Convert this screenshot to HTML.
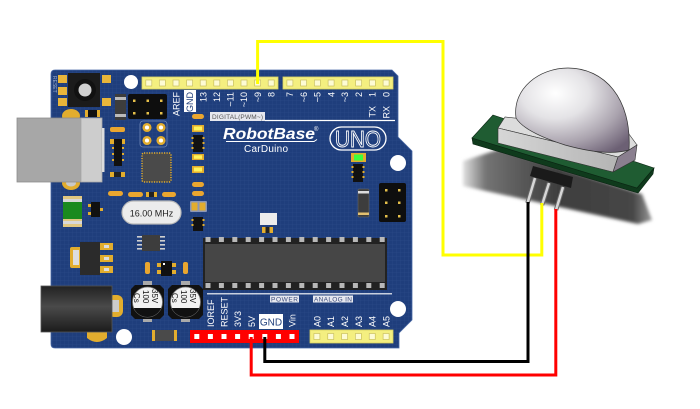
<!DOCTYPE html>
<html><head><meta charset="utf-8"><style>
html,body{margin:0;padding:0;background:#fff;width:700px;height:409px;overflow:hidden;}
svg{display:block;}
text{font-family:"Liberation Sans",sans-serif;}
</style></head><body>
<svg width="700" height="409" viewBox="0 0 700 409" xmlns="http://www.w3.org/2000/svg">
<defs>
 <pattern id="grid" width="4" height="4" patternUnits="userSpaceOnUse">
  <path d="M0 0H4M0 0V4" stroke="#5a7ab6" stroke-width="0.5" opacity="0.25"/>
 </pattern>
 <radialGradient id="dome" cx="0.35" cy="0.3" r="0.85">
  <stop offset="0" stop-color="#ffffff"/>
  <stop offset="0.35" stop-color="#e4e3e6"/>
  <stop offset="0.7" stop-color="#aaa3ae"/>
  <stop offset="1" stop-color="#6c6074"/>
 </radialGradient>
 <linearGradient id="shadow" x1="0" y1="0" x2="1" y2="0">
  <stop offset="0" stop-color="#e0e0e0"/>
  <stop offset="0.12" stop-color="#747474"/>
  <stop offset="0.5" stop-color="#3e3e3e"/>
  <stop offset="0.9" stop-color="#464646"/>
  <stop offset="1" stop-color="#9a9a9a"/>
 </linearGradient>
 <filter id="blur" x="-10%" y="-10%" width="120%" height="120%"><feGaussianBlur stdDeviation="1.5"/></filter>
 <linearGradient id="jack" x1="0" y1="0" x2="0" y2="1">
  <stop offset="0" stop-color="#222"/>
  <stop offset="0.45" stop-color="#4a4a4a"/>
  <stop offset="1" stop-color="#1c1c1c"/>
 </linearGradient>
 <linearGradient id="front" x1="0" y1="0" x2="1" y2="0">
  <stop offset="0" stop-color="#d6d6d6"/>
  <stop offset="1" stop-color="#b4b4b4"/>
 </linearGradient>
 <clipPath id="c1"><rect x="125" y="308" width="45" height="20"/></clipPath>
 <clipPath id="c2"><rect x="163" y="308" width="45" height="20"/></clipPath>
</defs>

<!-- Board -->
<path d="M55,70 H392 L398,76 V137 L412,151 V320 L399,333 V348 H55 Q51,348 51,344 V74 Q51,70 55,70 Z" fill="#1f3e7c"/>
<path d="M55,70 H392 L398,76 V137 L412,151 V320 L399,333 V348 H55 Q51,348 51,344 V74 Q51,70 55,70 Z" fill="url(#grid)" stroke="#4a69a6" stroke-width="0.8"/>

<!-- holes -->
<circle cx="131" cy="82" r="7" fill="#fff"/>
<circle cx="398" cy="163" r="8" fill="#fff"/>
<circle cx="124" cy="337" r="8" fill="#fff"/>
<circle cx="398" cy="309" r="8" fill="#fff"/>

<!-- Reset button -->
<g fill="#e8b53a">
 <rect x="58" y="75" width="9" height="8"/><rect x="58" y="87" width="9" height="8"/><rect x="58" y="98" width="9" height="8"/>
 <rect x="102" y="75" width="9" height="8"/><rect x="102" y="98" width="9" height="8"/>
</g>
<rect x="68" y="73" width="32" height="34" fill="#1b1b1b"/>
<circle cx="85" cy="90" r="11" fill="#111"/>
<circle cx="85" cy="90" r="6.5" fill="#cfcfcf"/>
<text transform="translate(53,76) rotate(90)" font-size="5" fill="#9fb0d0">RESET</text>

<!-- diode top -->
<rect x="115" y="94" width="11" height="26" fill="#3d3d3d"/>
<rect x="115" y="97" width="11" height="3" fill="#bbb"/>
<rect x="115" y="114" width="11" height="3" fill="#bbb"/>

<!-- ICSP top -->
<rect x="128" y="94" width="39" height="25" rx="2" fill="#0e0e0e"/>
<g fill="#e6c04a">
 <rect x="133" y="99.5" width="2.5" height="2.5"/><rect x="146.5" y="99.5" width="2.5" height="2.5"/><rect x="160" y="99.5" width="2.5" height="2.5"/>
 <rect x="133" y="112" width="2.5" height="2.5"/><rect x="146.5" y="112" width="2.5" height="2.5"/><rect x="160" y="112" width="2.5" height="2.5"/>
</g>
<rect x="140" y="121" width="27" height="26" rx="3" fill="none" stroke="#7088b8" stroke-width="0.8"/>
<g fill="#fff" stroke="#e2ad2e" stroke-width="2.5">
 <circle cx="147" cy="127.5" r="3.3"/><circle cx="161" cy="127.5" r="3.3"/>
 <circle cx="147" cy="140.5" r="3.3"/><circle cx="161" cy="140.5" r="3.3"/>
</g>

<!-- gold oval pads near USB -->
<ellipse cx="71" cy="116" rx="9" ry="7" fill="#e2ad2e"/>
<ellipse cx="71" cy="183" rx="9" ry="7" fill="#e2ad2e"/>
<ellipse cx="71" cy="183" rx="5" ry="3.5" fill="#c9c9c9"/>
<!-- small chip near USB -->
<rect x="85" y="110" width="15" height="7" fill="#e2ad2e"/>
<rect x="88" y="110" width="9" height="7" fill="#111"/>

<!-- USB -->
<rect x="17" y="118" width="64" height="64" fill="#a7a7a7" stroke="#8e8e8e" stroke-width="0.8"/>
<rect x="81" y="118" width="21" height="64" fill="#cdcdcd" stroke="#a9a9a9" stroke-width="0.8"/>
<rect x="102" y="128" width="2.5" height="44" fill="#dcdcdc"/>

<!-- left column small parts -->
<rect x="110" y="127" width="15" height="5" rx="2" fill="#eaa62f"/>
<rect x="110" y="139" width="5" height="5" fill="#e2ad2e"/><rect x="120" y="139" width="5" height="5" fill="#e2ad2e"/>
<rect x="114" y="139" width="8" height="27" fill="#111"/>
<g fill="#e2ad2e"><rect x="112" y="147" width="2" height="2"/><rect x="112" y="153" width="2" height="2"/><rect x="112" y="159" width="2" height="2"/><rect x="122" y="147" width="2" height="2"/><rect x="122" y="153" width="2" height="2"/><rect x="122" y="159" width="2" height="2"/></g>
<rect x="110" y="172" width="5" height="5" fill="#e2ad2e"/><rect x="120" y="172" width="5" height="5" fill="#e2ad2e"/>
<rect x="114" y="172" width="7" height="5" fill="#222"/>

<!-- QFP -->
<rect x="142" y="153" width="29" height="29" rx="2" fill="#4a4a4a" stroke="#e2ad2e" stroke-width="1.5" stroke-dasharray="1.2 1.3"/>
<rect x="144" y="155" width="25" height="25" rx="2" fill="#4a4a4a"/>

<!-- resistor row above crystal -->
<rect x="108" y="191" width="15" height="5" rx="2.5" fill="#eaa62f"/>
<rect x="128" y="192" width="15" height="5" rx="2.5" fill="#eaa62f"/>
<rect x="146" y="192" width="11" height="5" fill="#e2ad2e"/><rect x="149" y="192" width="5" height="5" fill="#222"/>
<rect x="162" y="192" width="14" height="5" rx="2.5" fill="#eaa62f"/>

<!-- crystal -->
<rect x="122" y="201" width="59" height="23" rx="11.5" fill="#ececec" stroke="#b9b9b9" stroke-width="1.2"/>
<text x="151.5" y="216.5" font-size="9" fill="#222" text-anchor="middle">16.00 MHz</text>

<!-- column of LEDs / resistors -->
<rect x="192" y="114" width="12" height="5" rx="2.5" fill="#eaa62f"/>
<rect x="192" y="125" width="12" height="7" fill="#e2ad2e"/><rect x="194" y="126.5" width="8" height="4" fill="#fff35a"/>
<rect x="193" y="135" width="10" height="17" fill="#111"/>
<g fill="#e2ad2e"><rect x="191.5" y="137" width="2" height="2"/><rect x="191.5" y="142" width="2" height="2"/><rect x="191.5" y="147" width="2" height="2"/><rect x="202.5" y="137" width="2" height="2"/><rect x="202.5" y="142" width="2" height="2"/><rect x="202.5" y="147" width="2" height="2"/></g>
<rect x="192" y="154" width="12" height="6" fill="#e2ad2e"/><rect x="194" y="155.3" width="8" height="3.5" fill="#fff35a"/>
<rect x="192" y="166" width="12" height="7" fill="#e2ad2e"/><rect x="194" y="167.5" width="8" height="4" fill="#fff35a"/>
<rect x="192" y="182" width="12" height="5" rx="2.5" fill="#eaa62f"/>
<rect x="192" y="191" width="12" height="5" rx="2.5" fill="#eaa62f"/>
<rect x="190" y="201" width="17" height="11" rx="1" fill="#8a96b8"/><rect x="191.5" y="202.5" width="6" height="8" fill="#e2ad2e"/><rect x="199.5" y="202.5" width="6" height="8" fill="#e2ad2e"/>
<rect x="193" y="217" width="10" height="14" fill="#111"/>
<g fill="#e2ad2e"><rect x="191.5" y="219" width="2" height="2"/><rect x="191.5" y="224" width="2" height="2"/><rect x="202.5" y="219" width="2" height="2"/><rect x="202.5" y="224" width="2" height="2"/></g>

<!-- green part -->
<rect x="63" y="196" width="19" height="31" fill="#e0c780"/>
<rect x="63" y="199" width="19" height="3" fill="#d8d8d8"/>
<rect x="63" y="221" width="19" height="3" fill="#d8d8d8"/>
<rect x="63" y="202" width="19" height="17" fill="#1a8a1e"/>
<!-- transistor -->
<rect x="88" y="204" width="4" height="3" fill="#e2ad2e"/><rect x="88" y="212" width="4" height="3" fill="#e2ad2e"/><rect x="99" y="208" width="4" height="3" fill="#e2ad2e"/>
<rect x="91" y="202" width="9" height="15" fill="#111"/>

<!-- voltage regulator -->
<rect x="70" y="247" width="14" height="21" rx="2" fill="#e2ad2e"/>
<rect x="73" y="250" width="6" height="15" fill="#ddd"/>
<rect x="100" y="243" width="13" height="7" fill="#e2ad2e"/>
<rect x="100" y="255" width="13" height="7" fill="#e2ad2e"/>
<rect x="100" y="266" width="13" height="7" fill="#e2ad2e"/>
<rect x="104" y="245" width="5" height="3" fill="#ddd"/><rect x="104" y="257" width="5" height="3" fill="#ddd"/><rect x="104" y="268" width="5" height="3" fill="#ddd"/>
<rect x="80" y="242" width="20" height="33" fill="#2b2b2b"/>

<!-- 8 pin chip -->
<g fill="#cfcfcf">
 <rect x="137" y="236" width="5" height="1.6"/><rect x="137" y="240" width="5" height="1.6"/><rect x="137" y="244" width="5" height="1.6"/><rect x="137" y="248" width="5" height="1.6"/>
 <rect x="160" y="236" width="5" height="1.6"/><rect x="160" y="240" width="5" height="1.6"/><rect x="160" y="244" width="5" height="1.6"/><rect x="160" y="248" width="5" height="1.6"/>
</g>
<rect x="142" y="235" width="18" height="16" fill="#3d3d3d"/>
<!-- small parts above caps -->
<rect x="145" y="262" width="5" height="12" rx="2" fill="#eaa62f"/>
<rect x="157" y="263" width="5" height="4" fill="#e2ad2e"/><rect x="157" y="270" width="5" height="4" fill="#e2ad2e"/><rect x="171" y="263" width="5" height="4" fill="#e2ad2e"/><rect x="171" y="270" width="5" height="4" fill="#e2ad2e"/>
<rect x="161" y="261" width="11" height="15" fill="#111"/><rect x="163" y="263" width="2" height="2" fill="#fff"/>
<rect x="183" y="262" width="5" height="12" rx="2" fill="#eaa62f"/>

<!-- capacitors -->
<g>
 <rect x="143" y="281" width="9" height="4" fill="#aaa"/><rect x="143" y="319" width="9" height="3" fill="#aaa"/>
 <path d="M135,285 H160 L164,289 V315 L160,319 H135 L131,315 V289 Z" fill="#111"/>
 <circle cx="147.5" cy="302" r="15" fill="#f2f2f2" stroke="#777" stroke-width="0.8"/>
 <circle cx="147.5" cy="302" r="15" fill="#111" clip-path="url(#c1)"/>
 <text transform="translate(134,293) rotate(90)" font-family="Liberation Serif" font-size="8" fill="#111">Cs</text>
 <text transform="translate(143,290) rotate(90)" font-family="Liberation Serif" font-size="8" fill="#111">100</text>
 <text transform="translate(152,289) rotate(90)" font-family="Liberation Serif" font-size="8" fill="#111">35V</text>
</g>
<g>
 <rect x="181" y="281" width="9" height="4" fill="#aaa"/><rect x="181" y="319" width="9" height="3" fill="#aaa"/>
 <path d="M172,285 H199 L203,289 V315 L199,319 H172 L168,315 V289 Z" fill="#111"/>
 <circle cx="185.5" cy="302" r="15" fill="#f2f2f2" stroke="#777" stroke-width="0.8"/>
 <circle cx="185.5" cy="302" r="15" fill="#111" clip-path="url(#c2)"/>
 <text transform="translate(172,293) rotate(90)" font-family="Liberation Serif" font-size="8" fill="#111">Cs</text>
 <text transform="translate(181,290) rotate(90)" font-family="Liberation Serif" font-size="8" fill="#111">100</text>
 <text transform="translate(190,289) rotate(90)" font-family="Liberation Serif" font-size="8" fill="#111">35V</text>
</g>

<!-- power jack -->
<rect x="108" y="295" width="15" height="22" rx="6" fill="#e2ad2e"/>
<rect x="111" y="300" width="8" height="12" fill="#ccc"/>
<path d="M87,330 H107 V338 Q97,346 87,338 Z" fill="#e2ad2e"/>
<rect x="41" y="286" width="71" height="46" fill="url(#jack)" stroke="#555" stroke-width="0.8"/>

<!-- small gray component bottom -->
<rect x="152" y="330" width="25" height="11" fill="#e2ad2e"/>
<rect x="155" y="330" width="19" height="11" fill="#4a4a4a"/>

<!-- white square and pads -->
<rect x="260" y="213" width="17" height="12" fill="#ececec"/>
<rect x="262" y="227" width="11" height="6" fill="#e2ad2e"/><rect x="265.5" y="227" width="4" height="6" fill="#222"/>

<!-- green LED right -->
<rect x="351" y="153" width="15" height="9" fill="#e2ad2e"/>
<rect x="354" y="154.5" width="9" height="6" fill="#3cff3c"/>
<rect x="353" y="164" width="10" height="18" fill="#111"/>
<g fill="#e2ad2e"><rect x="351.5" y="166" width="2" height="2"/><rect x="351.5" y="171" width="2" height="2"/><rect x="351.5" y="176" width="2" height="2"/><rect x="362.5" y="166" width="2" height="2"/><rect x="362.5" y="171" width="2" height="2"/><rect x="362.5" y="176" width="2" height="2"/></g>
<!-- diode right -->
<rect x="358" y="189" width="11" height="28" rx="1" fill="#3d3d3d" stroke="#666" stroke-width="0.6"/>
<rect x="358" y="191" width="11" height="2.5" fill="#ddd"/>
<rect x="358" y="212.5" width="11" height="2.5" fill="#e2c070"/>

<!-- ICSP right -->
<rect x="379" y="183" width="27" height="39" rx="2" fill="#0e0e0e"/>
<g fill="#e6c04a">
 <rect x="385" y="189" width="2.5" height="2.5"/><rect x="398" y="189" width="2.5" height="2.5"/>
 <rect x="385" y="201.5" width="2.5" height="2.5"/><rect x="398" y="201.5" width="2.5" height="2.5"/>
 <rect x="385" y="215" width="2.5" height="2.5"/><rect x="398" y="215" width="2.5" height="2.5"/>
</g>

<!-- DIP IC -->
<rect x="203" y="238" width="184" height="52" fill="#222"/>
<rect x="205" y="244" width="180" height="38" fill="#464646"/>
<g fill="#b8b8b8">
 <rect x="205.5" y="237" width="5" height="5"/><rect x="218.9" y="237" width="5" height="5"/><rect x="232.3" y="237" width="5" height="5"/><rect x="245.7" y="237" width="5" height="5"/><rect x="259.1" y="237" width="5" height="5"/><rect x="272.5" y="237" width="5" height="5"/><rect x="285.9" y="237" width="5" height="5"/><rect x="299.3" y="237" width="5" height="5"/><rect x="312.7" y="237" width="5" height="5"/><rect x="326.1" y="237" width="5" height="5"/><rect x="339.5" y="237" width="5" height="5"/><rect x="352.9" y="237" width="5" height="5"/><rect x="366.3" y="237" width="5" height="5"/><rect x="379.7" y="237" width="5" height="5"/>
 <rect x="205.5" y="283" width="5" height="5"/><rect x="218.9" y="283" width="5" height="5"/><rect x="232.3" y="283" width="5" height="5"/><rect x="245.7" y="283" width="5" height="5"/><rect x="259.1" y="283" width="5" height="5"/><rect x="272.5" y="283" width="5" height="5"/><rect x="285.9" y="283" width="5" height="5"/><rect x="299.3" y="283" width="5" height="5"/><rect x="312.7" y="283" width="5" height="5"/><rect x="326.1" y="283" width="5" height="5"/><rect x="339.5" y="283" width="5" height="5"/><rect x="352.9" y="283" width="5" height="5"/><rect x="366.3" y="283" width="5" height="5"/><rect x="379.7" y="283" width="5" height="5"/>
</g>

<!-- Logo -->
<text x="223" y="139" font-size="16" font-weight="bold" font-style="italic" fill="#fff" textLength="92" lengthAdjust="spacingAndGlyphs">RobotBase</text>
<path d="M226,141.5 H314 L317,139.5" stroke="#fff" stroke-width="1" fill="none"/>
<text x="314" y="131" font-size="6" fill="#fff">®</text>
<text x="244" y="152" font-family="Liberation Mono" font-size="10" fill="#fff" textLength="44">CarDuino</text>
<rect x="330" y="127" width="56" height="23" rx="11.5" fill="none" stroke="#fff" stroke-width="1.3"/>
<text x="358" y="147" font-size="23" fill="none" stroke="#fff" stroke-width="0.9" text-anchor="middle" textLength="46" lengthAdjust="spacingAndGlyphs">UNO</text>

<!-- DIGITAL label -->
<rect x="210" y="112" width="55" height="9" fill="#e6e8ef"/>
<text x="212" y="119" font-family="Liberation Serif" font-size="6.5" fill="#555" textLength="51">DIGITAL(PWM~)</text>
<line x1="265" y1="120.5" x2="395" y2="120.5" stroke="#fff" stroke-width="1.2"/>

<!-- POWER / ANALOG labels -->
<line x1="207" y1="293.8" x2="392" y2="293.8" stroke="#fff" stroke-width="1.2"/>
<rect x="270" y="295.5" width="29" height="7" fill="#e6e8ef"/>
<text x="271" y="301.5" font-size="6.5" fill="#3a4a7a" textLength="27">POWER</text>
<rect x="313" y="295.5" width="40" height="7" fill="#e6e8ef"/>
<text x="314" y="301.5" font-size="6.5" fill="#3a4a7a" textLength="38">ANALOG IN</text>

<!-- Top headers -->
<rect x="142" y="77" width="136" height="12" fill="#f4ef80" stroke="#d9d160" stroke-width="0.8"/>
<rect x="283" y="77" width="110" height="12" fill="#f4ef80" stroke="#d9d160" stroke-width="0.8"/>
<g fill="#fdfbd4" stroke="#c9c060" stroke-width="0.7">
 <rect x="145.8" y="80" width="6" height="6"/><rect x="159.4" y="80" width="6" height="6"/><rect x="173" y="80" width="6" height="6"/><rect x="186.6" y="80" width="6" height="6"/><rect x="200.2" y="80" width="6" height="6"/><rect x="213.8" y="80" width="6" height="6"/><rect x="227.4" y="80" width="6" height="6"/><rect x="241" y="80" width="6" height="6"/><rect x="254.6" y="80" width="6" height="6"/><rect x="268.2" y="80" width="6" height="6"/>
 <rect x="286.9" y="80" width="6" height="6"/><rect x="300.6" y="80" width="6" height="6"/><rect x="314.4" y="80" width="6" height="6"/><rect x="328.1" y="80" width="6" height="6"/><rect x="341.9" y="80" width="6" height="6"/><rect x="355.6" y="80" width="6" height="6"/><rect x="369.4" y="80" width="6" height="6"/><rect x="383.1" y="80" width="6" height="6"/>
</g>

<!-- top labels -->
<g font-size="9" fill="#fff" text-anchor="end">
 <text transform="translate(179.3,92) rotate(-90)">AREF</text>
 <text transform="translate(206.4,92) rotate(-90)">13</text>
 <text transform="translate(220,92) rotate(-90)">12</text>
 <text transform="translate(233.6,92) rotate(-90)">~11</text>
 <text transform="translate(247.2,92) rotate(-90)">~10</text>
 <text transform="translate(260.8,92) rotate(-90)">~9</text>
 <text transform="translate(274.4,92) rotate(-90)">8</text>
 <text transform="translate(293.1,92) rotate(-90)">7</text>
 <text transform="translate(306.8,92) rotate(-90)">~6</text>
 <text transform="translate(320.6,92) rotate(-90)">~5</text>
 <text transform="translate(334.3,92) rotate(-90)">4</text>
 <text transform="translate(348.1,92) rotate(-90)">~3</text>
 <text transform="translate(361.8,92) rotate(-90)">2</text>
 <text transform="translate(375.6,92) rotate(-90)">1</text>
 <text transform="translate(389.3,92) rotate(-90)">0</text>
 <text transform="translate(375.6,106) rotate(-90)">TX</text>
 <text transform="translate(389.3,106) rotate(-90)">RX</text>
</g>
<rect x="184" y="90" width="12" height="22" fill="#fff"/>
<text transform="translate(193,92) rotate(-90)" font-size="9" fill="#203f7c" text-anchor="end">GND</text>

<!-- bottom headers -->
<rect x="190" y="330" width="109" height="13" fill="#ff0000"/>
<g fill="#fff">
 <rect x="194.3" y="334" width="5" height="5"/><rect x="207.9" y="334" width="5" height="5"/><rect x="221.5" y="334" width="5" height="5"/><rect x="235.1" y="334" width="5" height="5"/><rect x="248.7" y="334" width="5" height="5"/><rect x="262.3" y="334" width="5" height="5"/><rect x="275.9" y="334" width="5" height="5"/><rect x="289.5" y="334" width="5" height="5"/>
</g>
<rect x="310" y="330" width="83" height="13" fill="#f4ef80" stroke="#d9d160" stroke-width="0.8"/>
<g fill="#fdfbd4" stroke="#c9c060" stroke-width="0.7">
 <rect x="313.9" y="333.5" width="6" height="6"/><rect x="327.75" y="333.5" width="6" height="6"/><rect x="341.6" y="333.5" width="6" height="6"/><rect x="355.4" y="333.5" width="6" height="6"/><rect x="369.25" y="333.5" width="6" height="6"/><rect x="383.1" y="333.5" width="6" height="6"/>
</g>

<!-- bottom labels -->
<g font-size="9" fill="#fff">
 <text transform="translate(214,327) rotate(-90)">IOREF</text>
 <text transform="translate(227.6,327) rotate(-90)">RESET</text>
 <text transform="translate(241.2,327) rotate(-90)">3V3</text>
 <text transform="translate(254.8,327) rotate(-90)">5V</text>
 <text transform="translate(295.4,327) rotate(-90)">Vin</text>
 <text transform="translate(320.3,327) rotate(-90)">A0</text>
 <text transform="translate(334.1,327) rotate(-90)">A1</text>
 <text transform="translate(348,327) rotate(-90)">A2</text>
 <text transform="translate(361.8,327) rotate(-90)">A3</text>
 <text transform="translate(375.6,327) rotate(-90)">A4</text>
 <text transform="translate(389.5,327) rotate(-90)">A5</text>
</g>
<rect x="259" y="314" width="24" height="15" fill="#fff"/>
<text x="271" y="325.5" font-size="10" fill="#203f7c" text-anchor="middle">GND</text>

<!-- PIR sensor -->
<polygon points="463,161 500,149 642,194 652,220 638,224 463,186" fill="url(#shadow)" filter="url(#blur)"/>
<!-- pcb -->
<polygon points="472,138 637,188 654,168 653,174 638,193 473,144" fill="#0f3a1c" stroke="#0a2412" stroke-width="0.6"/>
<polygon points="493,115 654,168 637,188 472,138" fill="#1f5c32" stroke="#0a2412" stroke-width="0.6"/>
<!-- connector -->
<polygon points="533,166 573,177 571,188 530,176" fill="#1a1a1a"/>
<!-- pins -->
<g stroke-linecap="butt">
 <line x1="535" y1="178" x2="527.5" y2="203" stroke="#666" stroke-width="4.5"/>
 <line x1="535" y1="178" x2="527.5" y2="203" stroke="#d6d6d6" stroke-width="2.5"/>
 <line x1="549" y1="183" x2="542" y2="205" stroke="#666" stroke-width="4.5"/>
 <line x1="549" y1="183" x2="542" y2="205" stroke="#d6d6d6" stroke-width="2.5"/>
 <line x1="563" y1="187" x2="556" y2="210" stroke="#666" stroke-width="4.5"/>
 <line x1="563" y1="187" x2="556" y2="210" stroke="#d6d6d6" stroke-width="2.5"/>
</g>
<!-- box -->
<polygon points="505,117 498,128 618,157 637,145 626,130" fill="#dcdcdc" stroke="#333" stroke-width="0.6"/>
<polygon points="498,128 618,157 613,172 498,143" fill="url(#front)" stroke="#333" stroke-width="0.6"/>
<polygon points="618,157 637,145 635,160 613,172" fill="#8a7f8f" stroke="#333" stroke-width="0.6"/>
<!-- dome -->
<path d="M516,118 C512,88 540,68 568,68 C604,68 632,98 629,150 C612,155 590,152 565,145 C540,137 522,128 516,118 Z" fill="url(#dome)" stroke="#333" stroke-width="0.7"/>

<!-- Wires -->
<g fill="none" stroke-width="3" stroke-linejoin="miter">
 <polyline points="257.6,84 257.6,41.5 443,41.5 443,255 541.8,255 541.8,203" stroke="#ffff00"/>
 <polyline points="264.8,337 264.8,361.5 528,361.5 528,202" stroke="#000"/>
 <polyline points="251.2,337 251.2,375 555.8,375 555.8,209" stroke="#ff0000"/>
</g>
</svg>
</body></html>
